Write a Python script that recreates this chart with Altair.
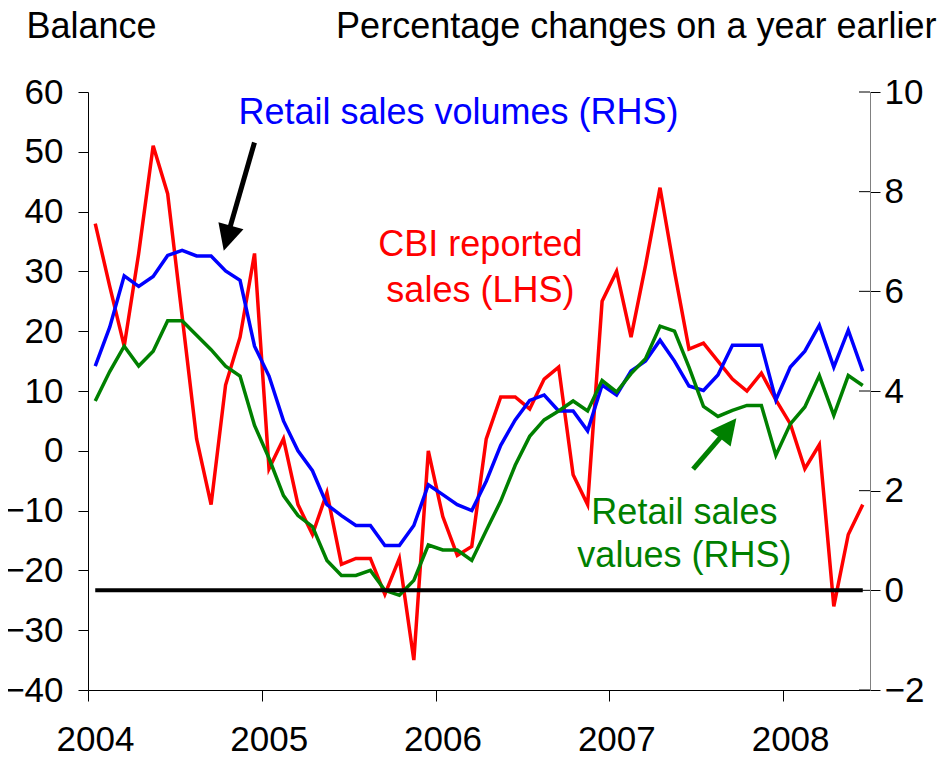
import altair as alt
import pandas as pd

# ---------------- data ----------------
months = [f"{y}-{m:02d}" for y in range(2004, 2009) for m in range(1, 13)][:54]

cbi_reported_sales = [
    38, 27.5, 17.5, 33, 51, 43, 22.5, 2, -9, 11, 19, 33,
    -3, 2, -9, -14, -7, -19, -18, -18, -24, -18, -35, 0,
    -11, -17.5, -16, 2, 9, 9, 7, 12, 14, -4, -9, 25,
    30, 19, 31, 44, 30, 17, 18, 15, 12, 10, 13, 8.5,
    4.5, -3, 1, -26, -14, -9,
]
retail_sales_volumes = [
    4.5, 5.28, 6.31, 6.1, 6.3, 6.72, 6.82, 6.71, 6.71, 6.41, 6.22, 4.9,
    4.3, 3.4, 2.8, 2.4, 1.72, 1.5, 1.3, 1.3, 0.9, 0.9, 1.3, 2.12,
    1.92, 1.72, 1.6, 2.19, 2.91, 3.42, 3.81, 3.92, 3.6, 3.6, 3.2, 4.12,
    3.92, 4.4, 4.6, 5.02, 4.6, 4.1, 4.01, 4.32, 4.92, 4.92, 4.92, 3.82,
    4.48, 4.8, 5.32, 4.48, 5.22, 4.4,
]
retail_sales_values = [
    3.8, 4.39, 4.9, 4.5, 4.8, 5.41, 5.41, 5.12, 4.83, 4.5, 4.3, 3.31,
    2.65, 1.9, 1.5, 1.28, 0.6, 0.3, 0.3, 0.4, 0.0, -0.1, 0.2, 0.91,
    0.81, 0.81, 0.6, 1.2, 1.79, 2.51, 3.09, 3.42, 3.6, 3.8, 3.6, 4.21,
    3.98, 4.35, 4.65, 5.3, 5.2, 4.48, 3.69, 3.49, 3.61, 3.71, 3.71, 2.71,
    3.34, 3.68, 4.31, 3.51, 4.31, 4.11,
]

year_ticks = [2004, 2005, 2006, 2007, 2008]
left_ticks = list(range(-40, 61, 10))
right_ticks = list(range(-2, 11, 2))

# annotation texts (x in decimal years, y on the left-hand scale)
label_text = ["Retail sales volumes (RHS)", "CBI reported", "sales (LHS)",
              "Retail sales", "values (RHS)"]
label_x = [2006.132, 2006.258, 2006.258, 2007.432, 2007.432]
label_y = [54.7, 32.6, 24.9, -12.2, -19.4]
label_color = ["#0000FF", "#FF0000", "#FF0000", "#008000", "#008000"]

# arrows (left-hand scale)
arrow_x = [2004.958, 2007.482]
arrow_y = [51.55, -3.06]
arrow_x2 = [2004.808, 2007.662]
arrow_y2 = [36.45, 3.01]
head_x = [2004.802, 2007.685]
head_y = [35.54, 3.75]
head_angle = [196, 38]
arrow_color = ["#000000", "#008000"]

# ---------------- tables ----------------
def month_pos(m):
    y, mo = m.split("-")
    return int(y) + (int(mo) - 0.5) / 12

xs = [month_pos(m) for m in months]
red_df = pd.DataFrame({"x": xs, "v": cbi_reported_sales})
rhs_df = pd.DataFrame({
    "x": xs + xs,
    "v": retail_sales_volumes + retail_sales_values,
    "series": ["Retail sales volumes"] * len(xs) + ["Retail sales values"] * len(xs),
})
zero_df = pd.DataFrame({"x": [xs[0]], "x2": [xs[-1]], "v": [0]})
label_df = pd.DataFrame({"x": label_x, "y": label_y, "t": label_text, "c": label_color})
arrow_df = pd.DataFrame({"x": arrow_x, "y": arrow_y, "x2": arrow_x2, "y2": arrow_y2, "c": arrow_color})
head_df = pd.DataFrame({"x": head_x, "y": head_y, "a": head_angle, "c": arrow_color})
rtick_df = pd.DataFrame({"v": right_ticks})

FONT = "Liberation Sans"
W, H = 782, 598

xscale = alt.Scale(domain=[2004, 2008.5], nice=False, zero=False)
xaxis = alt.Axis(values=year_ticks, format="d", title=None, tickSize=11,
                 labelFontSize=35, labelPadding=21, labelFlush=False,
                 labelOverlap=False, labelOffset=7, labelColor="black",
                 domainColor="black", tickColor="black", grid=False,
                 labelFont=FONT)
X = alt.X("x:Q", scale=xscale, axis=xaxis)

lscale = alt.Scale(domain=[-40, 60], nice=False, zero=False)
rscale = alt.Scale(domain=[-2, 10], nice=False, zero=False)

laxis = alt.Axis(orient="left", values=left_ticks, tickSize=10, labelPadding=15,
                 labelFontSize=35, labelColor="black", labelFont=FONT,
                 domainColor="black", tickColor="black", grid=False,
                 title="Balance", titleAngle=0, titleAlign="left",
                 titleBaseline="alphabetic", titleX=-62, titleY=-55,
                 titleFontSize=36, titleFontWeight="normal", titleColor="black",
                 titleFont=FONT)
raxis = alt.Axis(orient="right", values=right_ticks, tickSize=10, labelPadding=4,
                 labelFontSize=35, labelColor="black", labelFont=FONT,
                 domainColor="#808080", tickColor="black", grid=False,
                 title="Percentage changes on a year earlier", titleAngle=0,
                 titleAlign="right", titleBaseline="alphabetic", titleX=66,
                 titleY=-55, titleFontSize=36, titleFontWeight="normal",
                 titleColor="black", titleFont=FONT)

red = alt.Chart(red_df).mark_line(color="#FF0000", strokeWidth=3.5).encode(
    x=X, y=alt.Y("v:Q", scale=lscale, axis=laxis))

rhs = alt.Chart(rhs_df).mark_line(strokeWidth=3.5).encode(
    x=X, y=alt.Y("v:Q", scale=rscale, axis=raxis),
    color=alt.Color("series:N", scale=alt.Scale(
        domain=["Retail sales volumes", "Retail sales values"],
        range=["#0000FF", "#008000"]), legend=None))

zero = alt.Chart(zero_df).mark_rule(color="black", strokeWidth=4).encode(
    x=X, x2="x2:Q", y=alt.Y("v:Q", scale=rscale, axis=None))

inner_ticks = alt.Chart(rtick_df).mark_rule(color="black", strokeWidth=1).encode(
    x=alt.value(W - 11), x2=alt.value(W),
    y=alt.Y("v:Q", scale=rscale, axis=None))

labels = alt.Chart(label_df).mark_text(
    font=FONT, fontSize=36, align="center", baseline="alphabetic").encode(
    x=X, y=alt.Y("y:Q", scale=lscale, axis=None), text="t:N",
    color=alt.Color("c:N", scale=None))

shafts = alt.Chart(arrow_df).mark_rule(strokeWidth=5).encode(
    x=X, x2="x2:Q", y=alt.Y("y:Q", scale=lscale, axis=None), y2="y2:Q",
    color=alt.Color("c:N", scale=None))

heads = alt.Chart(head_df).mark_point(
    shape="M0,-1L1,1L-1,1Z", filled=True, size=676, opacity=1, strokeWidth=0).encode(
    x=X, y=alt.Y("y:Q", scale=lscale, axis=None),
    angle=alt.Angle("a:Q", scale=None),
    color=alt.Color("c:N", scale=None))

chart = alt.layer(red, rhs, zero, inner_ticks, labels, shafts, heads).resolve_scale(
    y="independent"
).properties(
    width=W, height=H,
    autosize=alt.AutoSizeParams(type="none"),
    padding={"left": 80, "top": 84, "right": 68, "bottom": 64},
).configure(font=FONT).configure_view(stroke=None)

chart.save("out.html", embed_options={"renderer": "svg", "actions": False})
